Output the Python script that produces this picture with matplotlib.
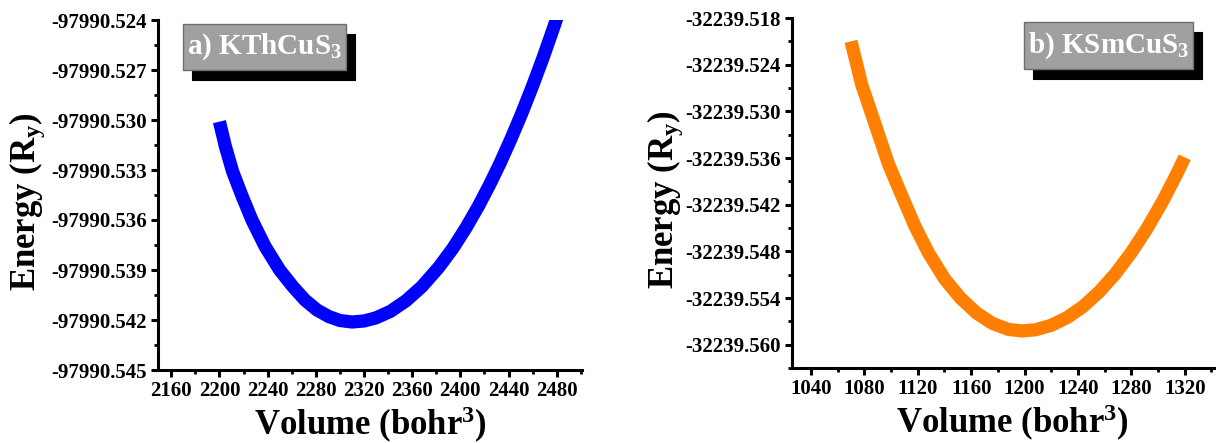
import matplotlib
matplotlib.use("Agg")
import matplotlib.pyplot as plt
from matplotlib.patches import Rectangle
from matplotlib.ticker import FixedLocator, AutoMinorLocator, FuncFormatter

plt.rcParams['font.family'] = ['Liberation Serif', 'DejaVu Serif']
plt.rcParams['font.weight'] = 'bold'
plt.rcParams['mathtext.fontset'] = 'custom'
plt.rcParams['mathtext.rm'] = 'Liberation Serif:bold'
plt.rcParams['mathtext.it'] = 'Liberation Serif:bold'
plt.rcParams['mathtext.bf'] = 'Liberation Serif:bold'

# a) KThCuS3
vol_a = [2200, 2205, 2211, 2219, 2227, 2238, 2250, 2261, 2271, 2281, 2291, 2300,
         2310, 2320, 2330, 2342, 2355, 2368, 2382, 2394, 2405, 2415, 2424, 2433,
         2442, 2451, 2460, 2469, 2478, 2486]
energy_a = [-97990.5301, -97990.5316, -97990.5331, -97990.5346, -97990.5360,
            -97990.5376, -97990.5390, -97990.5400, -97990.5408, -97990.5414,
            -97990.5418, -97990.54203, -97990.54212, -97990.54206, -97990.54187,
            -97990.54148, -97990.54084, -97990.5400, -97990.53885, -97990.53768,
            -97990.53643, -97990.53517, -97990.53393, -97990.53259, -97990.53114,
            -97990.5296, -97990.52795, -97990.5262, -97990.52434, -97990.5226]
xticks_a = [2160, 2200, 2240, 2280, 2320, 2360, 2400, 2440, 2480]
yticks_a = [-97990.545, -97990.542, -97990.539, -97990.536, -97990.533,
            -97990.530, -97990.527, -97990.524]

# b) KSmCuS3
vol_b = [1070, 1078, 1088, 1098, 1108, 1118, 1128, 1140, 1152, 1164, 1176, 1188,
         1198, 1208, 1220, 1232, 1244, 1256, 1268, 1280, 1292, 1304, 1314, 1320]
energy_b = [-32239.5210, -32239.52656, -32239.53162, -32239.53674, -32239.54082,
            -32239.5448, -32239.54819, -32239.55151, -32239.55401, -32239.55593,
            -32239.55727, -32239.55804, -32239.55824, -32239.55809, -32239.55751,
            -32239.55651, -32239.55507, -32239.55319, -32239.55089, -32239.54815,
            -32239.54499, -32239.54139, -32239.53806, -32239.53591]
xticks_b = [1040, 1080, 1120, 1160, 1200, 1240, 1280, 1320]
yticks_b = [-32239.560, -32239.554, -32239.548, -32239.542, -32239.536,
            -32239.530, -32239.524, -32239.518]

fig = plt.figure(figsize=(12.16, 4.43), dpi=100)
ax1 = fig.add_axes([158 / 1216, 73 / 443, 424 / 1216, 350 / 443])
ax2 = fig.add_axes([792 / 1216, 75 / 443, 440 / 1216, 350 / 443])


def style(ax, xticks, yticks, ylabel_x):
    for s in ['top', 'right']:
        ax.spines[s].set_visible(False)
    for s in ['left', 'bottom']:
        ax.spines[s].set_linewidth(2.2)
    ax.xaxis.set_major_locator(FixedLocator(xticks))
    ax.yaxis.set_major_locator(FixedLocator(yticks))
    ax.xaxis.set_minor_locator(AutoMinorLocator(2))
    ax.yaxis.set_minor_locator(AutoMinorLocator(2))
    ax.yaxis.set_major_formatter(FuncFormatter(lambda v, p: '%.3f' % v))
    ax.tick_params(which='major', direction='out', length=5, width=2.2,
                   labelsize=15, pad=3)
    ax.tick_params(which='minor', direction='out', length=3, width=2)
    ax.set_xlabel('Volume (bohr$^{3}$)', fontsize=25, fontweight='bold')
    ax.set_ylabel('Energy (R$_{y}$)', fontsize=25, fontweight='bold')
    ax.xaxis.set_label_coords(0.5, -0.1)
    ax.yaxis.set_label_coords(ylabel_x, 0.48)


def tag(ax, text, x0, x1, y0, y1, dx, dy):
    ax.add_patch(Rectangle((x0 + dx, y0 - dy), x1 - x0, y1 - y0, transform=ax.transAxes,
                           facecolor='black', edgecolor='black', lw=0.8,
                           clip_on=False, zorder=5))
    ax.add_patch(Rectangle((x0, y0), x1 - x0, y1 - y0, transform=ax.transAxes,
                           facecolor='#a0a0a0', edgecolor='#6e6e6e', lw=1,
                           clip_on=False, zorder=6))
    ax.text((x0 + x1) / 2, (y0 + y1) / 2, text, transform=ax.transAxes,
            ha='center', va='center', color='white', fontsize=21,
            fontweight='bold', zorder=7)


ax1.plot(vol_a, energy_a, color='#0000ff', lw=9.5, solid_capstyle='butt',
         solid_joinstyle='round')
ax1.set_xlim(2149, 2501)
ax1.set_ylim(-97990.545, -97990.524)
style(ax1, xticks_a, yticks_a, -0.262)
tag(ax1, 'a) KThCuS$_3$', 0.059, 0.443, 0.857, 0.989, 0.021, 0.028)

ax2.plot(vol_b, energy_b, color='#ff8000', lw=9.5, solid_capstyle='butt',
         solid_joinstyle='round')
ax2.set_xlim(1025.8, 1355.4)
ax2.set_ylim(-32239.563, -32239.518)
style(ax2, xticks_b, yticks_b, -0.243)
tag(ax2, 'b) KSmCuS$_3$', 0.527, 0.911, 0.854, 0.989, 0.021, 0.028)

fig.savefig('out.png', dpi=100)
